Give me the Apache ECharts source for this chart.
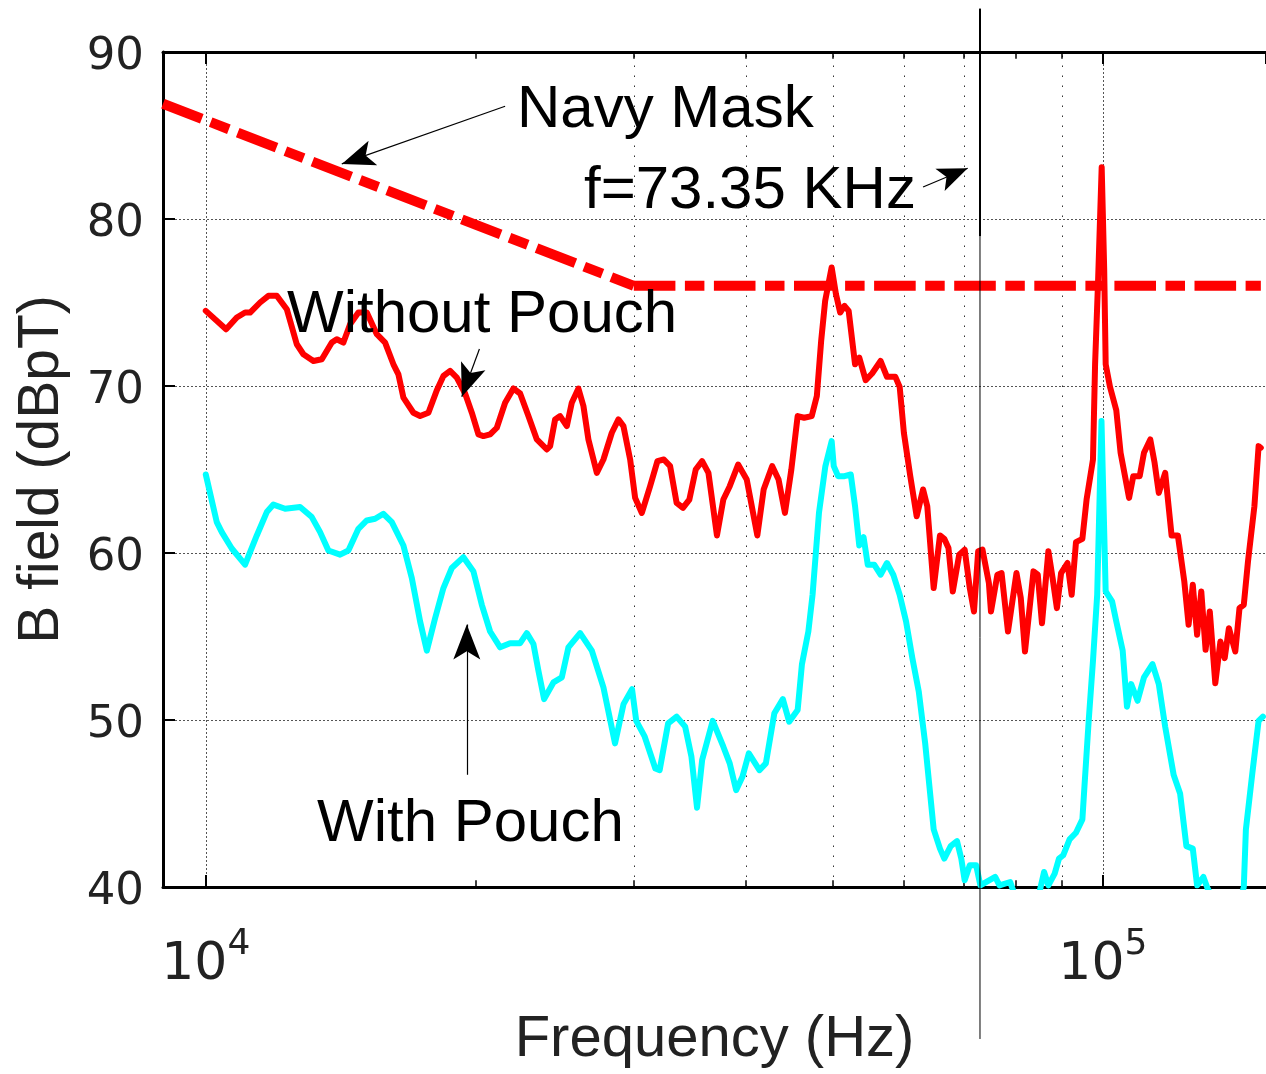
<!DOCTYPE html>
<html><head><meta charset="utf-8">
<script src="https://cdn.jsdelivr.net/npm/echarts@6/dist/echarts.min.js"></script>
<style>html,body{margin:0;padding:0;background:#fff}#chart{width:1266px;height:1074px}</style>
</head><body><div id="chart"></div>
<script>
// ---------- data ----------
const withoutPouchFreq = [10000,10535,10828,11061,11204,11496,11743,11999,12311,12631,12847,13181,13469,13819,13997,14236,14483,14795,15118,15511,15845,16186,16395,16607,17039,17335,17708,18094,18403,18722,19047,19457,19795,20133,20393,20747,21107,21561,22025,22408,22890,23389,23997,24201,24514,24830,25261,25587,26024,26361,26701,27283,27750,28355,28839,29212,29719,30102,30625,31284,31876,32404,32932,33486,34032,34596,35169,35751,36334,37136,37751,38376,39213,40088,41194,41866,42789,43498,44219,44951,45684,46453,47368,47992,48525,49026,49851,50404,50951,51516,52075,52937,53511,54398,55299,56519,57455,58707,59359,60003,60997,62007,63034,63717,64773,65829,66560,67281,68028,69155,70138,71062,71833,72611,73417,74633,75036,76279,77106,78383,80112,81001,81879,83685,84614,85531,86948,87890,88866,89829,91316,92306,93331,94877,95905,97494,98021,98779,99696,100338,100725,101843,103503,104652,106960,108119,109910,111130,112942,114196,115434,117346,119290,121235,123243,124611,125962,127360,128740,130169,131580,133451,135210,136711,138191,140480,142004,143580,145137,147541,149140,149985];
const withoutPouchDb = [74.5,73.4,74.1,74.4,74.4,75.0,75.4,75.4,74.6,72.5,71.9,71.5,71.6,72.6,72.8,72.6,73.7,74.4,74.4,73.1,72.6,71.3,70.7,69.3,68.4,68.2,68.4,69.75,70.6,70.9,70.5,69.55,68.4,67.1,67.0,67.1,67.5,69.0,69.85,69.55,68.2,66.8,66.2,66.4,68.0,68.2,67.6,69.0,69.85,68.8,66.8,64.8,65.6,67.2,68.0,67.6,65.6,63.3,62.4,64.0,65.5,65.6,65.2,63.0,62.7,63.2,65.0,65.5,64.8,61.05,63.2,64.0,65.3,64.4,61.05,63.8,65.2,64.4,62.4,65.0,68.2,68.1,68.2,69.4,72.7,75.1,77.1,75.5,74.4,74.8,74.5,71.3,71.7,70.35,70.75,71.5,70.55,70.55,69.95,67.2,64.6,62.2,63.8,62.8,57.9,61.05,60.85,60.3,57.7,59.9,60.2,57.9,56.5,60.1,60.2,58.2,56.5,58.7,58.8,55.3,58.8,57.3,54.1,58.9,58.7,55.8,60.1,58.5,56.7,58.8,59.4,57.5,60.65,60.85,63.2,65.6,71.3,76.3,83.1,77.0,71.3,69.95,68.55,66.0,63.3,64.6,64.6,66.0,66.8,65.4,63.6,64.8,61.05,61.05,58.3,55.7,58.1,55.1,57.7,54.2,56.5,52.2,54.7,53.7,55.5,54.1,56.7,56.9,59.5,62.8,66.4,66.3];

const withPouchFreq = [10000,10286,10419,10690,11061,11399,11695,11895,12258,12739,13127,13410,13699,14116,14420,14795,15118,15443,15776,16120,16607,16969,17335,17636,18016,18403,18804,19373,19876,20310,20747,21287,21840,22408,22796,23186,23485,23831,24407,24939,25365,26139,26935,27750,28588,29219,29864,30188,30854,31705,32057,32764,33486,34225,34783,35286,35751,36738,37751,38376,39012,39648,40305,41417,42103,43032,43981,44698,45684,46192,46957,47466,48253,49052,49851,50121,50677,51516,52357,52937,53511,54106,54693,55599,56519,57455,58392,59359,60343,61328,62343,63376,64064,64773,65829,66560,67663,68766,69529,70138,71062,72240,73023,75851,76693,78827,81000,84000,85993,86948,88364,89345,90314,91810,93331,94877,95390,96424,97494,98552,99646,100725,102394,103503,105218,106384,107538,109319,111130,113580,115434,117346,119935,121920,123908,125962,127360,129436,130873,135000,141000,143580,144357,146751,149140,150796];
const withPouchDb = [64.7,61.85,61.25,60.27,59.3,61.05,62.45,62.9,62.65,62.75,62.15,61.25,60.15,59.9,60.15,61.45,61.95,62.05,62.35,61.85,60.45,58.5,55.9,54.15,56.1,57.9,59.1,59.75,58.9,56.9,55.3,54.35,54.6,54.6,55.2,54.55,52.95,51.25,52.25,52.55,54.35,55.2,54.15,51.95,48.6,50.95,51.85,49.95,49.0,47.1,47.0,49.8,50.2,49.6,47.8,44.75,47.6,49.95,48.4,47.4,45.8,46.6,48.0,47.0,47.4,50.4,51.25,49.9,50.6,53.35,55.3,57.5,62.4,65.2,66.7,65.2,64.6,64.6,64.7,62.8,60.45,60.95,59.3,59.3,58.7,59.4,58.7,57.5,55.9,53.7,51.7,48.6,46.05,43.45,42.3,41.7,42.45,42.75,41.7,40.4,41.3,41.3,40.1,40.6,40.1,40.3,38.5,38.5,40.9,40.1,40.8,41.7,41.9,42.85,43.25,44.05,46.05,49.95,53.55,57.5,67.9,57.7,57.1,55.9,54.15,50.8,52.15,51.15,52.55,53.35,52.15,49.6,46.7,45.6,42.45,42.3,40.1,40.6,39.9,38.5,38.5,40.0,43.45,46.8,49.95,50.2];

const navyMaskFreq = [8960, 30000, 150000];
const navyMaskDb = [86.9, 76.0, 76.0];

const xRange = [8960, 152000];
const yTicks = [40, 50, 60, 70, 80, 90];
const minorGridFreq = [30000, 40000, 50000, 60000, 70000, 90000];
const minorTickFreq = [20000, 30000, 40000, 50000, 60000, 70000, 80000, 90000];

const markerFreq = 72950;               // vertical line, f = 73.35 kHz
const markerDb = [92.6, 78.97, 30.9];   // top, thickness change, bottom

const annotationText = ['Navy Mask', 'f=73.35 KHz', 'Without Pouch', 'With Pouch'];
const arrowTailFreq = [21561, 63034, 20185, 19542];
const arrowTailDb = [86.75, 81.92, 72.22, 46.72];
const arrowHeadFreq = [14178, 70682, 19293, 19542];
const arrowHeadDb = [83.3, 83.04, 69.36, 55.72];

// ---------- chart ----------
const FONT = "'Liberation Sans', Arial, sans-serif";
const TICKFONT = "'DejaVu Sans', sans-serif";
const chart = echarts.init(document.getElementById('chart'), null, {renderer: 'canvas'});
const pairs = (xs, ys) => xs.map((x, i) => [x, ys[i]]);

const headShape = 'path://M13,0 L26,34 L13,26 L0,34 Z';
const arrowSizes = [[26, 33], [24, 30], [26, 33], [27, 35]];

const option = {
  animation: false,
  backgroundColor: '#ffffff',
  grid: {left: 163, top: 52, width: 1103, height: 843, containLabel: false},
  xAxis: [{
    type: 'log', logBase: 10, min: xRange[0], max: xRange[1], position: 'bottom',
    axisLine: {show: true, onZero: false, lineStyle: {color: '#000', width: 3}},
    axisTick: {show: true, inside: true, length: 12, lineStyle: {color: '#000', width: 2}},
    axisLabel: {
      show: true, margin: 40, showMinLabel: false, showMaxLabel: false,
      formatter: function (v) {
        const e = Math.log10(v);
        if (Math.abs(e - Math.round(e)) > 1e-6) return '';
        return '{b|10}{s|' + Math.round(e) + '}';
      },
      rich: {
        b: {fontFamily: TICKFONT, fontSize: 52, color: '#222', lineHeight: 64, verticalAlign: 'bottom'},
        s: {fontFamily: TICKFONT, fontSize: 36, color: '#222', verticalAlign: 'top'}
      }
    },
    splitLine: {show: true, lineStyle: {color: '#555', width: 1, type: [2, 2]}},
    minorTick: {show: false}, minorSplitLine: {show: false},
    name: 'Frequency (Hz)', nameLocation: 'middle', nameGap: 124,
    nameTextStyle: {fontFamily: FONT, fontSize: 58, color: '#222'}
  }, {
    type: 'log', logBase: 10, min: xRange[0], max: xRange[1], position: 'top',
    axisLine: {show: true, onZero: false, lineStyle: {color: '#000', width: 3}},
    axisTick: {show: true, inside: true, length: 12, lineStyle: {color: '#000', width: 2}},
    axisLabel: {show: false}, splitLine: {show: false}
  }],
  yAxis: [{
    type: 'value', min: yTicks[0], max: yTicks[yTicks.length - 1], interval: yTicks[1] - yTicks[0],
    axisLine: {show: true, onZero: false, lineStyle: {color: '#000', width: 3}},
    axisTick: {show: true, inside: true, length: 12, lineStyle: {color: '#000', width: 2}},
    axisLabel: {show: true, margin: 19, fontFamily: TICKFONT, fontSize: 45, color: '#222',
                verticalAlign: 'top', lineHeight: 10},
    splitLine: {show: true, lineStyle: {color: '#555', width: 1, type: [2, 2]}},
    name: 'B field (dBpT)', nameLocation: 'middle', nameGap: 92, nameRotate: 90,
    nameTextStyle: {fontFamily: FONT, fontSize: 57, color: '#222'}
  }],
  series: [
    {
      name: 'minorGrid', type: 'line', data: [], z: 1, silent: true,
      markLine: {
        silent: true, symbol: ['none', 'none'], z: 1, animation: false,
        label: {show: false},
        lineStyle: {color: '#333', width: 1, type: [1.5, 8.5]},
        data: minorGridFreq.map(f => ({xAxis: f}))
          .concat(minorTickFreq.map(f => [{coord: [f, yTicks[0]], lineStyle: {type: 'solid', width: 1.5, color: '#000'}}, {coord: [f, yTicks[0] + 0.4]}]))
          .concat(minorTickFreq.map(f => [{coord: [f, yTicks[yTicks.length - 1]], lineStyle: {type: 'solid', width: 1.5, color: '#000'}}, {coord: [f, yTicks[yTicks.length - 1] - 0.4]}]))
      }
    },
    {
      name: 'Navy Mask (slope)', type: 'line', showSymbol: false, symbol: 'none', z: 3,
      data: pairs(navyMaskFreq.slice(0, 2), navyMaskDb.slice(0, 2)),
      lineStyle: {color: '#ff0000', width: 10, type: [41.6, 9.5, 19.5, 9.5], cap: 'butt'}
    },
    {
      name: 'Navy Mask (flat)', type: 'line', showSymbol: false, symbol: 'none', z: 3,
      data: pairs(navyMaskFreq.slice(1), navyMaskDb.slice(1)),
      lineStyle: {color: '#ff0000', width: 10, type: [41.6, 9.5, 19.5, 9.5], cap: 'butt'}
    },
    {
      name: 'Without Pouch', type: 'line', showSymbol: false, symbol: 'none', z: 4, clip: true,
      data: pairs(withoutPouchFreq, withoutPouchDb),
      lineStyle: {color: '#ff0000', width: 6, join: 'round', cap: 'round'}
    },
    {
      name: 'With Pouch', type: 'line', showSymbol: false, symbol: 'none', z: 5, clip: true,
      data: pairs(withPouchFreq, withPouchDb),
      lineStyle: {color: '#00ffff', width: 6, join: 'round', cap: 'round'}
    },
    {
      name: 'arrows', type: 'line', data: [], z: 6, silent: true,
      markLine: {
        silent: true, z: 6, animation: false, label: {show: false},
        symbol: ['none', headShape],
        lineStyle: {color: '#000', width: 1.2, type: 'solid'},
        itemStyle: {color: '#000'},
        data: arrowTailFreq.map((f, i) => [
          {coord: [f, arrowTailDb[i]], symbol: 'none'},
          {coord: [arrowHeadFreq[i], arrowHeadDb[i]], symbol: headShape,
           symbolSize: arrowSizes[i], symbolOffset: [0, arrowSizes[i][1] / 2],
           itemStyle: {color: '#000'}}
        ])
      }
    }
  ]
};
chart.setOption(option);

// annotation texts and the f = 73.35 kHz marker line (x from the axis scale)
const vx = chart.convertToPixel({xAxisIndex: 0}, markerFreq);
const yTop = chart.convertToPixel({yAxisIndex: 0}, markerDb[0]);
const yMid = chart.convertToPixel({yAxisIndex: 0}, markerDb[1]);
const yBot = chart.convertToPixel({yAxisIndex: 0}, markerDb[2]);
const textPos = [[517, 110], [584, 191], [287, 315], [317, 824]];
const graphics = annotationText.map((t, i) => ({
  type: 'text', x: textPos[i][0], y: textPos[i][1], z: 100,
  style: {text: t, font: '60px ' + FONT, fill: '#000', textAlign: 'left', verticalAlign: 'middle'}
}));
graphics.push({type: 'line', z: 90, shape: {x1: vx, y1: yTop, x2: vx, y2: yMid}, style: {stroke: '#000', lineWidth: 2}});
graphics.push({type: 'line', z: 90, shape: {x1: vx, y1: yMid, x2: vx, y2: yBot}, style: {stroke: '#000', lineWidth: 1}});
chart.setOption({graphic: graphics});
</script>
</body></html>
